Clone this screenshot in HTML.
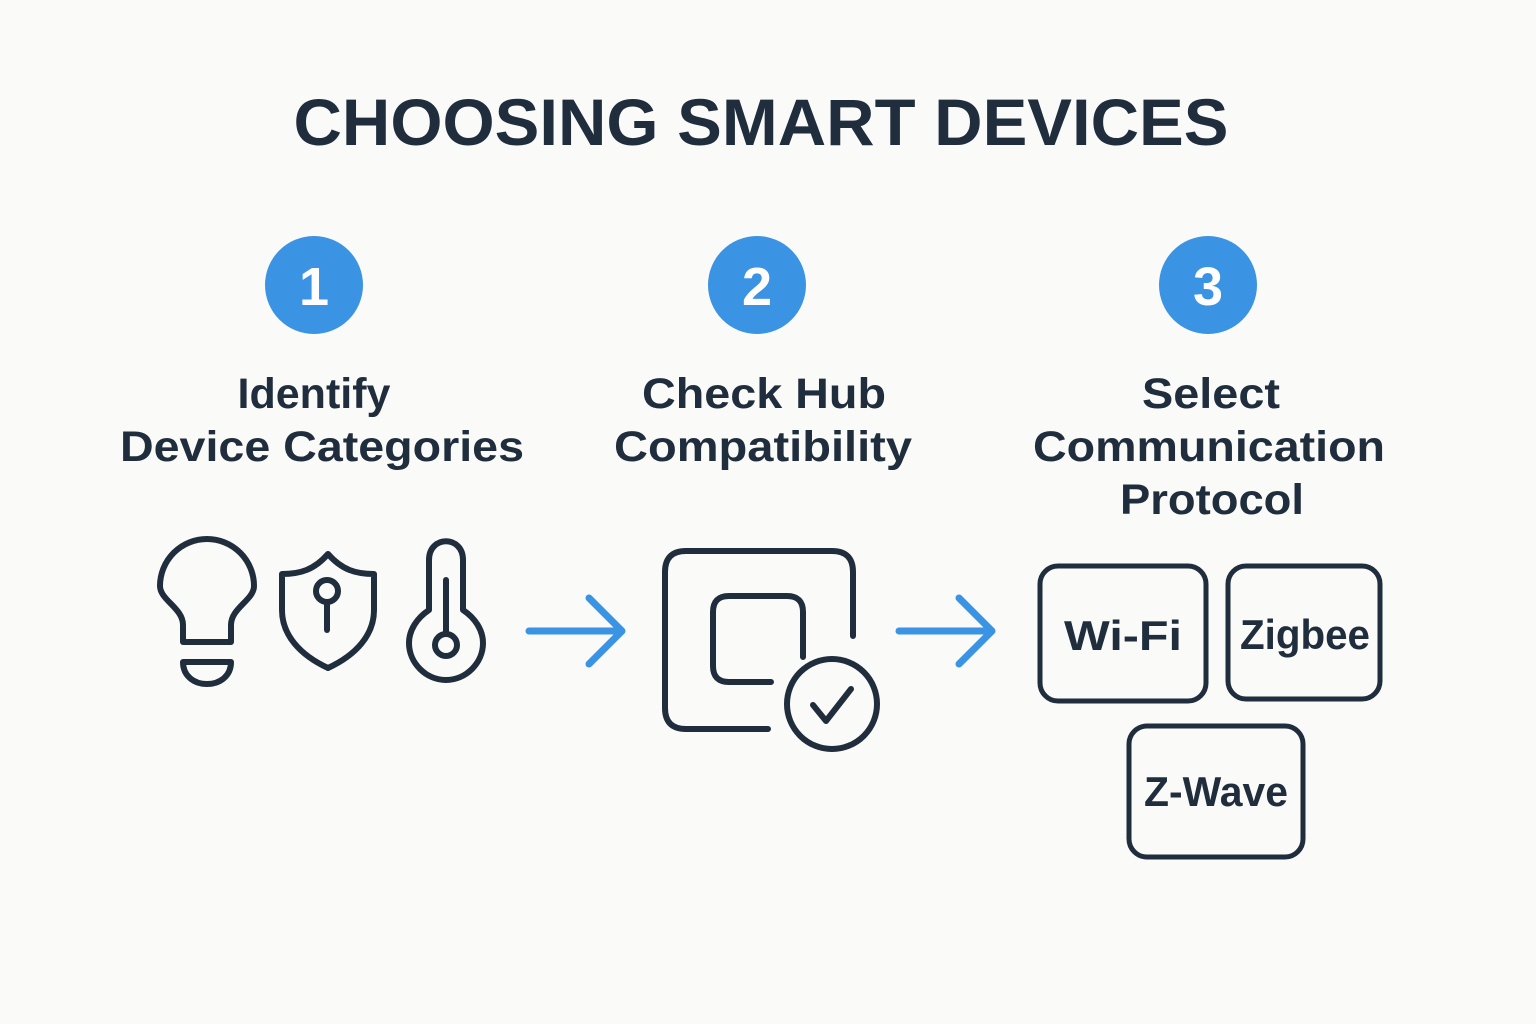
<!DOCTYPE html>
<html><head><meta charset="utf-8"><style>
html,body{margin:0;padding:0;background:#fafaf8;}
svg{display:block}
text{font-family:"Liberation Sans",sans-serif;fill:#1f2d3d;font-weight:bold}
</style></head><body>
<svg width="1536" height="1024" viewBox="0 0 1536 1024">
<rect width="1536" height="1024" fill="#fafaf8"/>
<text x="761" y="145" font-size="66" text-anchor="middle" textLength="935" lengthAdjust="spacingAndGlyphs">CHOOSING SMART DEVICES</text>
<g fill="#3b93e3">
<circle cx="314" cy="285" r="49"/><circle cx="757" cy="285" r="49"/><circle cx="1208" cy="285" r="49"/>
</g>
<g font-size="54" text-anchor="middle">
<text x="314" y="305" style="fill:#fff">1</text><text x="757" y="305" style="fill:#fff">2</text><text x="1208" y="305" style="fill:#fff">3</text>
</g>
<g font-size="43" text-anchor="middle">
<text x="314" y="408">Identify</text>
<text x="322" y="461" textLength="404" lengthAdjust="spacingAndGlyphs">Device Categories</text>
<text x="764" y="408" textLength="244" lengthAdjust="spacingAndGlyphs">Check Hub</text>
<text x="763" y="461" textLength="298" lengthAdjust="spacingAndGlyphs">Compatibility</text>
<text x="1211" y="408" textLength="138" lengthAdjust="spacingAndGlyphs">Select</text>
<text x="1209" y="461" textLength="352" lengthAdjust="spacingAndGlyphs">Communication</text>
<text x="1212" y="514" textLength="184" lengthAdjust="spacingAndGlyphs">Protocol</text>
</g>
<g fill="none" stroke="#1f2d3d" stroke-width="6" stroke-linecap="round" stroke-linejoin="round">
<!-- bulb -->
<path d="M183,642 L183,625 C183,608 160,600 160,586 A47,47 0 1 1 254,586 C254,600 231,608 231,625 L231,642 Z"/>
<path d="M183,662 L231,662 C231,676 220,684 207,684 C194,684 183,676 183,662 Z"/>
<!-- shield -->
<path d="M328,554 C314,570 300,574 282,574 L282,610 C282,635 300,655 328,668 C356,655 374,635 374,610 L374,574 C356,574 342,570 328,554 Z"/>
<circle cx="327" cy="591" r="11"/><line x1="327" y1="602" x2="327" y2="630"/>
<!-- thermometer -->
<path d="M429,610 L429,560 C429,535 463,535 463,560 L463,610 C475,618 483,630 483,643 C483,663 466,680 446,680 C426,680 409,663 409,643 C409,630 417,618 429,610 Z"/>
<line x1="446" y1="580" x2="446" y2="632"/><circle cx="446" cy="645" r="11"/>
<!-- hub -->
<path d="M853,636 L853,572 Q853,551 832,551 L686,551 Q665,551 665,572 L665,708 Q665,729 686,729 L768,729"/>
<path d="M803,657 L803,612 Q803,596 787,596 L729,596 Q713,596 713,612 L713,666 Q713,682 729,682 L771,682"/>
<circle cx="832" cy="704" r="45"/>
<path d="M813,705 L826,721 L851,689"/>
</g>
<g fill="none" stroke="#3b93e3" stroke-width="7" stroke-linecap="round" stroke-linejoin="round">
<line x1="529" y1="631" x2="621" y2="631"/><path d="M589,598 L622,631 L589,664"/>
<line x1="899" y1="631" x2="991" y2="631"/><path d="M959,598 L992,631 L959,664"/>
</g>
<g fill="none" stroke="#1f2d3d" stroke-width="5">
<rect x="1040" y="566" width="166" height="135" rx="18"/>
<rect x="1228" y="566" width="152" height="133" rx="18"/>
<rect x="1129" y="726" width="174" height="131" rx="18"/>
</g>
<g font-size="42" text-anchor="middle">
<text x="1123" y="650" textLength="118" lengthAdjust="spacingAndGlyphs">Wi-Fi</text>
<text x="1305" y="649" textLength="130" lengthAdjust="spacingAndGlyphs">Zigbee</text>
<text x="1216" y="806" textLength="144" lengthAdjust="spacingAndGlyphs">Z-Wave</text>
</g>
</svg>
</body></html>
